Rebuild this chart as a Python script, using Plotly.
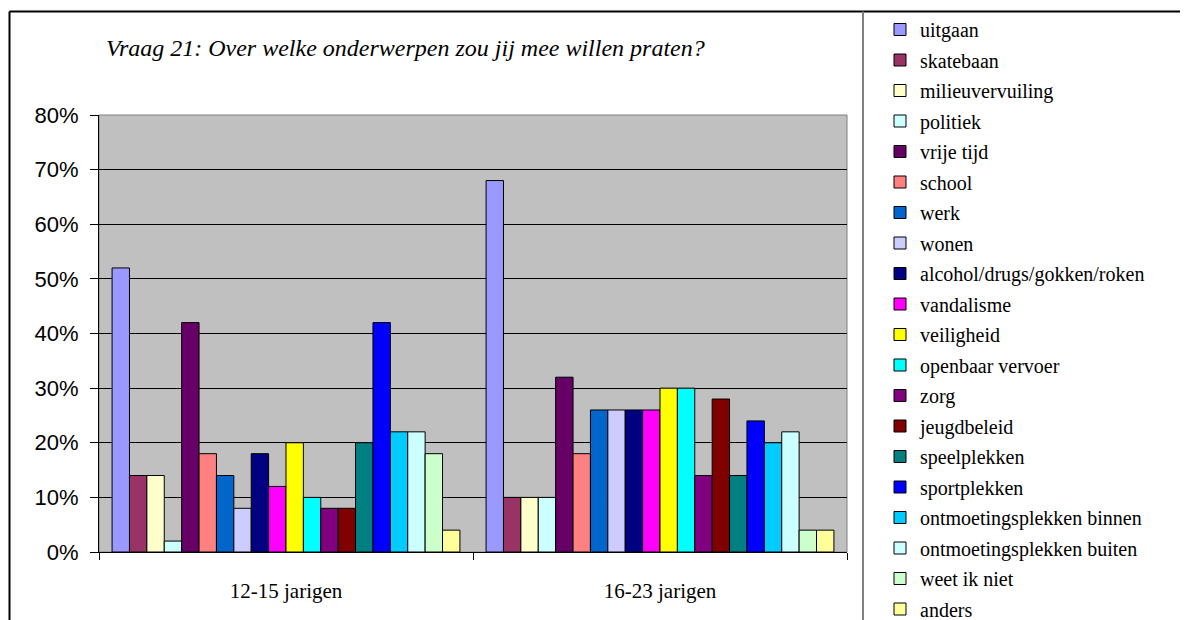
import plotly.graph_objects as go

# categorieën en onderwerpen
groepen = ['12-15 jarigen', '16-23 jarigen']

onderwerpen = ['uitgaan', 'skatebaan', 'milieuvervuiling', 'politiek', 'vrije tijd',
               'school', 'werk', 'wonen', 'alcohol/drugs/gokken/roken', 'vandalisme',
               'veiligheid', 'openbaar vervoer', 'zorg', 'jeugdbeleid', 'speelplekken',
               'sportplekken', 'ontmoetingsplekken binnen', 'ontmoetingsplekken buiten',
               'weet ik niet', 'anders']

# percentages per onderwerp
waarden_12_15 = [52, 14, 14, 2, 42, 18, 14, 8, 18, 12, 20, 10, 8, 8, 20, 42, 22, 22, 18, 4]
waarden_16_23 = [68, 10, 10, 10, 32, 18, 26, 26, 26, 26, 30, 30, 14, 28, 14, 24, 20, 22, 4, 4]

kleuren = ['#9999FF', '#993366', '#FFFFCC', '#CCFFFF', '#660066', '#FF8080', '#0066CC',
           '#CCCCFF', '#000080', '#FF00FF', '#FFFF00', '#00FFFF', '#800080', '#800000',
           '#008080', '#0000FF', '#00CCFF', '#CCFFFF', '#CCFFCC', '#FFFF99']

# pagina heeft 8px body-marge, dus alles 8px verschuiven
OFF = 8
W, H = 1188 - OFF, 620 - OFF
L, R, T, B = 99 - OFF, 847 - OFF, 115 - OFF, 552 - OFF


def px_x(px):
    return (px - OFF - L) / (R - L)


def px_y(py):
    return (B - (py - OFF)) / (B - T)


fig = go.Figure()
for i, naam in enumerate(onderwerpen):
    fig.add_trace(go.Bar(
        x=groepen,
        y=[waarden_12_15[i] / 100, waarden_16_23[i] / 100],
        name=naam,
        legendgroup=naam,
        marker=dict(color=kleuren[i], line=dict(color='black', width=1)),
    ))

fig.update_layout(
    width=W, height=H,
    margin=dict(l=L, r=W - R, t=T, b=H - B, pad=0, autoexpand=False),
    paper_bgcolor='white',
    plot_bgcolor='#C0C0C0',
    barmode='group',
    bargap=0.07,
    bargroupgap=0,
    font=dict(family='Liberation Serif, Times New Roman, serif', color='black'),
    legend=dict(
        x=px_x(880), y=px_y(10), xanchor='left', yanchor='top',
        font=dict(family='Liberation Serif, Times New Roman, serif', size=20, color='black'),
        tracegroupgap=1.5,
        maxheight=700,
        bgcolor='rgba(0,0,0,0)',
    ),
    showlegend=True,
)

fig.update_yaxes(
    range=[0, 0.8], dtick=0.1, tickformat='.0%',
    showline=True, linecolor='black', linewidth=1,
    ticks='outside', ticklen=8, tickcolor='black',
    gridcolor='black', gridwidth=1, zeroline=False,
    tickfont=dict(family='Liberation Sans, Arial, sans-serif', size=22, color='black'),
    ticklabelstandoff=7,
)
fig.update_xaxes(
    type='category', tickson='boundaries',
    showline=True, linecolor='black', linewidth=1,
    ticks='outside', ticklen=7, tickcolor='black',
    tickfont=dict(family='Liberation Serif, Times New Roman, serif', size=21, color='black'),
    ticklabelstandoff=20,
)

# grijze rand van het plotgebied
fig.add_shape(type='rect', xref='paper', yref='paper', x0=0, x1=1, y0=0, y1=1,
              line=dict(color='#808080', width=1), layer='below')
# kader van de grafiek
fig.add_shape(type='line', xref='paper', yref='paper',
              x0=px_x(9.5), x1=px_x(1190), y0=px_y(11.5), y1=px_y(11.5),
              line=dict(color='black', width=2))
fig.add_shape(type='line', xref='paper', yref='paper',
              x0=px_x(9.5), x1=px_x(9.5), y0=px_y(11.5), y1=px_y(625),
              line=dict(color='black', width=2))
fig.add_shape(type='line', xref='paper', yref='paper',
              x0=px_x(863), x1=px_x(863), y0=px_y(11.5), y1=px_y(625),
              line=dict(color='#808080', width=2))

fig.add_annotation(
    text='Vraag 21: Over welke onderwerpen zou jij mee willen praten?',
    xref='paper', yref='paper', x=px_x(104), y=px_y(48),
    xanchor='left', yanchor='middle', showarrow=False,
    font=dict(family='Liberation Serif, Times New Roman, serif', size=24, color='black', style='italic'),
)

fig.write_html("out.html")
